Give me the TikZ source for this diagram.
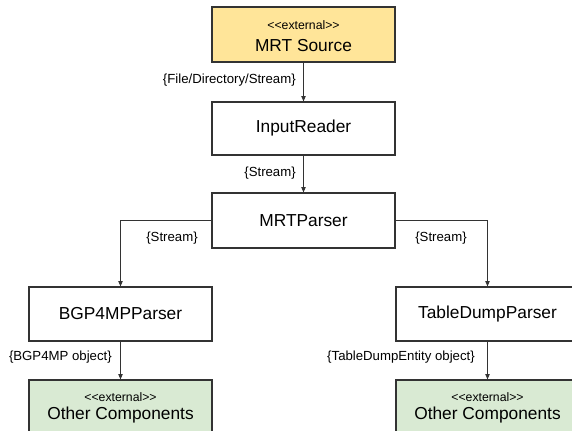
\documentclass[tikz,border=0pt]{standalone}
\usepackage{fontspec}
\setmainfont{Liberation Sans}
\usetikzlibrary{arrows.meta}
\definecolor{srcfill}{HTML}{FFE599}
\definecolor{extfill}{HTML}{D9EAD3}
\definecolor{edge}{HTML}{333333}
\begin{document}
\begin{tikzpicture}[x=0.75pt,y=-0.75pt,
  box/.style={draw=edge,line width=0.8pt,fill=white,minimum width=137.25pt,minimum height=41.25pt,inner sep=0pt,font=\fontsize{13}{15}\selectfont},
  bigtxt/.style={inner sep=0pt,font=\fontsize{13}{15}\selectfont},
  smalltxt/.style={inner sep=0pt,font=\fontsize{9.2}{11}\selectfont},
  lbl/.style={inner sep=0pt,font=\fontsize{9.9}{11}\selectfont},
  conn/.style={draw=edge,line width=0.75pt,-{Triangle[length=4pt,width=3.2pt]}}]
\useasboundingbox (0,0) rectangle (572,431);
\clip (0,0) rectangle (572,431);
% boxes
\node[box,fill=srcfill] (src) at (303.5,34.5) {};
\node[smalltxt] (srcst) at (303.5,25) {<{}<external>{}>};
\node[bigtxt] (srcname) at (303.5,46) {MRT Source};
\node[box,minimum height=39.75pt] (reader) at (303.5,128.5) {InputReader};
\node[box] (parser) at (303.5,220.5) {MRTParser};
\node[box,minimum height=40.5pt] (bgp) at (120.5,314) {BGP4MPParser};
\node[box,minimum height=40.5pt] (tdp) at (487.5,314) {TableDumpParser};
\node[box,fill=extfill] (oc1) at (120.5,407.5) {};
\node[smalltxt] (oc1st) at (120.5,397) {<{}<external>{}>};
\node[bigtxt] (oc1name) at (120.5,415) {Other Components};
\node[box,fill=extfill] (oc2) at (487.5,407.5) {};
\node[smalltxt] (oc2st) at (487.5,397) {<{}<external>{}>};
\node[bigtxt] (oc2name) at (487.5,415) {Other Components};
% connectors
\draw[conn] (src.south) -- (reader.north);
\draw[conn] (reader.south) -- (parser.north);
\draw[conn] (parser.west) -| (bgp.north);
\draw[conn] (parser.east) -| (tdp.north);
\draw[conn] (bgp.south) -- (oc1.north);
\draw[conn] (tdp.south) -- (oc2.north);
% labels
\node[lbl,anchor=east] (l1) at (296,80) {\{File/Directory/Stream\}};
\node[lbl,anchor=east] (l2) at (296,173) {\{Stream\}};
\node[lbl] (l3) at (172,238) {\{Stream\}};
\node[lbl] (l4) at (441,238) {\{Stream\}};
\node[lbl,anchor=east] (l5) at (112,357) {\{BGP4MP object\}};
\node[lbl,anchor=east] (l6) at (475,357) {\{TableDumpEntity object\}};
\end{tikzpicture}
\end{document}
